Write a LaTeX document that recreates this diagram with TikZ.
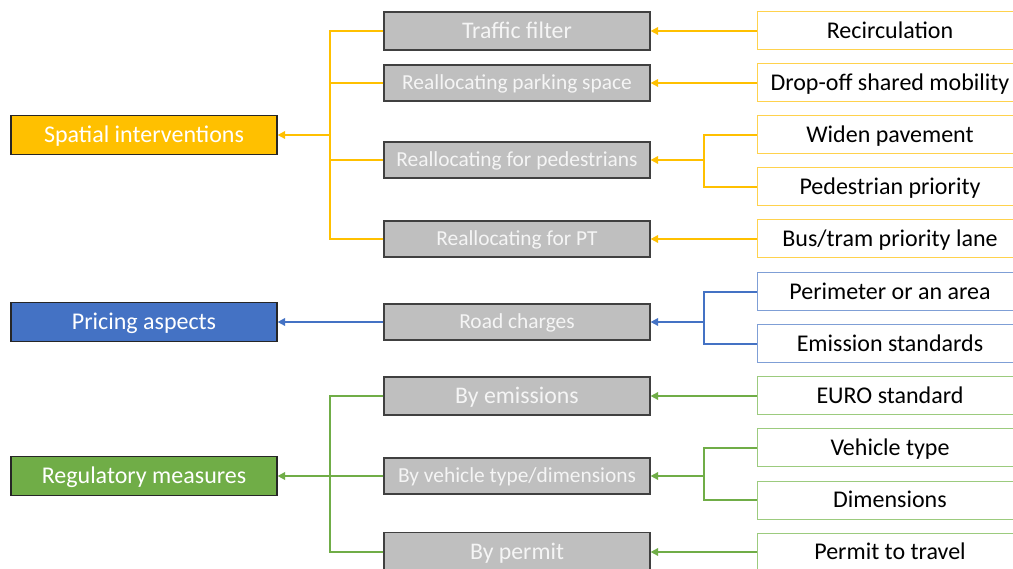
\documentclass[tikz,border=0pt]{standalone}
\usepackage{fontspec}
\setmainfont{Carlito}
\usetikzlibrary{arrows.meta}
\definecolor{cy}{HTML}{FFC000}
\definecolor{cb}{HTML}{4472C4}
\definecolor{cg}{HTML}{70AD47}
\definecolor{cgray}{HTML}{BFBFBF}
\definecolor{cdark}{HTML}{262626}
\definecolor{cmid}{HTML}{404040}
\definecolor{cyl}{HTML}{FFD24D}
\definecolor{cbl}{HTML}{7F9FD6}
\definecolor{cgl}{HTML}{9CCB7E}
\tikzset{
  catbox/.style={text height=21.5pt, text depth=6pt, draw=cdark, line width=1.2pt, minimum width=266pt, minimum height=39pt, inner sep=0pt, text=white, font=\fontsize{24}{28}\selectfont},
  midbox/.style={text height=21.3pt, text depth=6pt, draw=cmid, line width=1.2pt, fill=cgray, minimum width=266pt, minimum height=37pt, inner sep=0pt, text=white!96!black, font=\fontsize{23.8}{28}\selectfont},
  midsmall/.style={text height=19.1pt, text depth=5.35pt, font=\fontsize{21.4}{25}\selectfont},
  leafbox/.style={text height=21.5pt, text depth=6pt, line width=1pt, fill=white, minimum width=266pt, minimum height=38pt, inner sep=0pt, text=black, font=\fontsize{24}{28}\selectfont},
  conn/.style={line width=2pt},
  arr/.style={conn, -{Triangle[length=7.5pt,width=7.5pt]}},
}
\begin{document}
\begin{tikzpicture}[x=1pt,y=-1pt]
\clip (0,0) rectangle (1013,569);
\fill[white] (0,0) rectangle (1013,569);
% categories
\node[catbox, fill=cy] (sp) at (144,135) {Spatial interventions};
\node[catbox, fill=cb] (pr) at (144,322) {Pricing aspects};
\node[catbox, fill=cg] (rm) at (144,476) {Regulatory measures};
% middle
\node[midbox, minimum height=38pt] (tf) at (517,31) {Traffic filter};
\node[midbox, midsmall, minimum height=36pt] (ps) at (517,83) {Reallocating parking space};
\node[midbox, midsmall, minimum height=36pt] (rp) at (517,160) {Reallocating for pedestrians};
\node[midbox, midsmall, minimum height=36pt] (rt) at (517,239) {Reallocating for PT};
\node[midbox, midsmall, minimum height=36pt] (rc) at (517,322) {Road charges};
\node[midbox, minimum height=38pt] (be) at (517,396) {By emissions};
\node[midbox, midsmall, minimum height=36pt] (bv) at (517,476) {By vehicle type/dimensions};
\node[midbox, minimum height=39pt] (bp) at (517,552) {By permit};
% leaves
\node[leafbox, draw=cyl] (l1) at (890,31) {Recirculation};
\node[leafbox, draw=cyl] (l2) at (890,83) {Drop-off shared mobility};
\node[leafbox, draw=cyl] (l3) at (890,135) {Widen pavement};
\node[leafbox, draw=cyl] (l4) at (890,187) {Pedestrian priority};
\node[leafbox, draw=cyl] (l5) at (890,239) {Bus/tram priority lane};
\node[leafbox, draw=cbl] (l6) at (890,292) {Perimeter or an area};
\node[leafbox, draw=cbl] (l7) at (890,344) {Emission standards};
\node[leafbox, draw=cgl] (l8) at (890,396) {EURO standard};
\node[leafbox, draw=cgl] (l9) at (890,448) {Vehicle type};
\node[leafbox, draw=cgl] (l10) at (890,500) {Dimensions};
\node[leafbox, draw=cgl] (l11) at (890,552) {Permit to travel};
% junctions
\coordinate (jy) at (330,135);
\coordinate (jyp) at (704,160);
\coordinate (jbp) at (704,322);
\coordinate (jg) at (330,476);
\coordinate (jgv) at (704,476);
% yellow
\draw[conn, cy] (tf.west) -| (jy);
\draw[conn, cy] (rt.west) -| (jy);
\draw[conn, cy] (ps.west) -- (ps.west -| jy);
\draw[conn, cy] (rp.west) -- (rp.west -| jy);
\draw[arr, cy] (jy) -- (sp.east);
\draw[arr, cy] (l1.west) -- (tf.east);
\draw[arr, cy] (l2.west) -- (ps.east);
\draw[conn, cy] (l3.west) -| (jyp);
\draw[conn, cy] (l4.west) -| (jyp);
\draw[arr, cy] (jyp) -- (rp.east);
\draw[arr, cy] (l5.west) -- (rt.east);
% blue
\draw[arr, cb] (rc.west) -- (pr.east);
\draw[conn, cb] (l6.west) -| (jbp);
\draw[conn, cb] (l7.west) -| (jbp);
\draw[arr, cb] (jbp) -- (rc.east);
% green
\draw[conn, cg] (be.west) -| (jg);
\draw[conn, cg] (bp.west) -| (jg);
\draw[arr, cg] (bv.west) -- (rm.east);
\draw[arr, cg] (l8.west) -- (be.east);
\draw[conn, cg] (l9.west) -| (jgv);
\draw[conn, cg] (l10.west) -| (jgv);
\draw[arr, cg] (jgv) -- (bv.east);
\draw[arr, cg] (l11.west) -- (bp.east);
\end{tikzpicture}
\end{document}
